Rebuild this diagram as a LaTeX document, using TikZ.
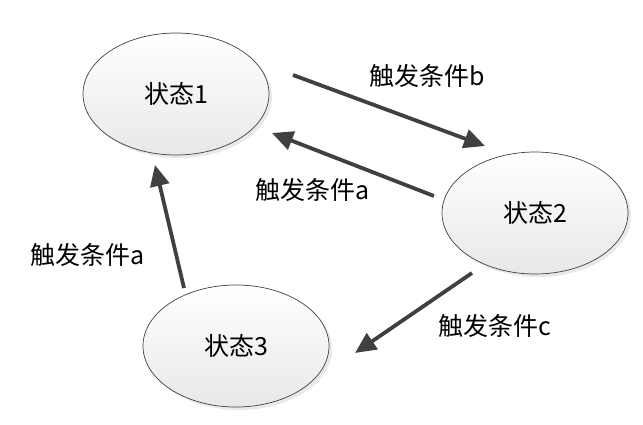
\documentclass[tikz,border=0pt]{standalone}
\usepackage{fontspec}
\newfontfamily\cjk{Noto Sans CJK SC}
\usetikzlibrary{arrows.meta,shadows,shapes.geometric}
\definecolor{arrowgray}{HTML}{404040}
\tikzset{
  state/.style={ellipse, draw=black!75, line width=0.7pt, minimum width=186pt, minimum height=122pt,
    top color=white, bottom color=black!9, font=\cjk\fontsize{25}{29}\selectfont,
    drop shadow={shadow xshift=3pt, shadow yshift=-3pt, opacity=0.22, fill=black!40}},
  trans/.style={draw=arrowgray, line width=3.8pt, -{Triangle[length=21pt,width=19pt]}},
  lbl/.style={font=\cjk\fontsize{25}{29}\selectfont, inner sep=0pt}
}
\begin{document}
\begin{tikzpicture}[x=1pt,y=-1pt]
\useasboundingbox (0,0) rectangle (643,424);
\node[state] (s1) at (176,94) {状态1};
\node[state] (s2) at (535,213) {状态2};
\node[state] (s3) at (236,346) {状态3};
\coordinate (b1) at (293,75);
\coordinate (b2) at (485,146);
\coordinate (a1) at (434,196);
\coordinate (a2) at (272,133);
\coordinate (l1) at (184,288);
\coordinate (l2) at (155,165);
\coordinate (c1) at (472,273);
\coordinate (c2) at (355,353);
\draw[trans] (b1) -- (b2);
\draw[trans] (a1) -- (a2);
\draw[trans] (l1) -- (l2);
\draw[trans] (c1) -- (c2);
\node[lbl] (lb) at (427,76) {触发条件b};
\node[lbl] (la) at (313,190) {触发条件a};
\node[lbl] (ll) at (88,255) {触发条件a};
\node[lbl] (lc) at (495,326) {触发条件c};
\end{tikzpicture}
\end{document}
